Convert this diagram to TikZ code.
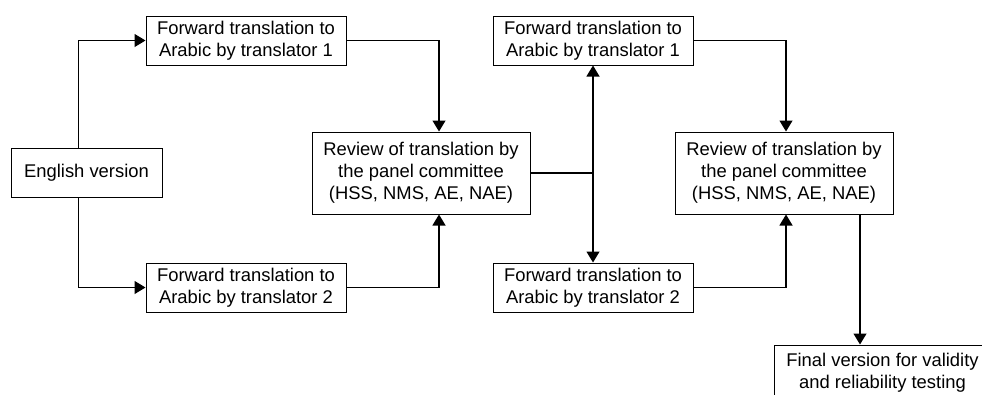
\documentclass[tikz,border=0pt]{standalone}
\usepackage{fontspec}
\setmainfont{Liberation Sans}
\usetikzlibrary{arrows.meta}
\begin{document}
\begin{tikzpicture}[x=1pt,y=-1pt,
    box/.style={draw,line width=1pt,align=center,inner sep=0pt,
      font=\fontsize{18.4}{22}\selectfont,minimum height=49pt},
    wire/.style={line width=1.2pt},
    tip/.style={wire,-{Triangle[width=13pt,length=11pt]}}]
        \useasboundingbox (0,0) rectangle (982,394);
        \clip (0,0) rectangle (982,394);
        \node[box,minimum width=151pt] (eng) at (86.5,172.5) {English version};
        \node[box,minimum width=200pt] (fwdA) at (246,40.5) {Forward translation to\\Arabic by translator 1};
        \node[box,minimum width=200pt] (fwdB) at (246,287.5) {Forward translation to\\Arabic by translator 2};
        \node[box,minimum width=218pt,minimum height=82pt] (revA) at (421,173) {Review of translation by\\the panel committee\\(HSS, NMS, AE, NAE)};
        \node[box,minimum width=200pt] (fwdC) at (593,40.5) {Forward translation to\\Arabic by translator 1};
        \node[box,minimum width=200pt] (fwdD) at (593,287.5) {Forward translation to\\Arabic by translator 2};
        \node[box,minimum width=218pt,minimum height=82pt] (revB) at (784,173) {Review of translation by\\the panel committee\\(HSS, NMS, AE, NAE)};
        \node[box,minimum width=217pt,minimum height=55pt] (final) at (882.5,372.5) {Final version for validity\\and reliability testing};
        \coordinate (split) at (revA.east -| fwdC.south);
        \draw[tip] ([xshift=-8pt]eng.north) |- (fwdA.west);
        \draw[tip] ([xshift=-8pt]eng.south) |- (fwdB.west);
        \draw[tip] (fwdA.east) -| ([xshift=18pt]revA.north);
        \draw[tip] (fwdB.east) -| ([xshift=18pt]revA.south);
        \draw[wire] (revA.east) -- (split);
        \draw[tip] (split) -- (fwdC.south);
        \draw[tip] (split) -- (fwdD.north);
        \draw[tip] (fwdC.east) -| ([xshift=2pt]revB.north);
        \draw[tip] (fwdD.east) -| ([xshift=2pt]revB.south);
        \draw[tip] ([xshift=76pt]revB.south) -- ([xshift=76pt]revB.south |- final.north);
      \end{tikzpicture}
\end{document}
